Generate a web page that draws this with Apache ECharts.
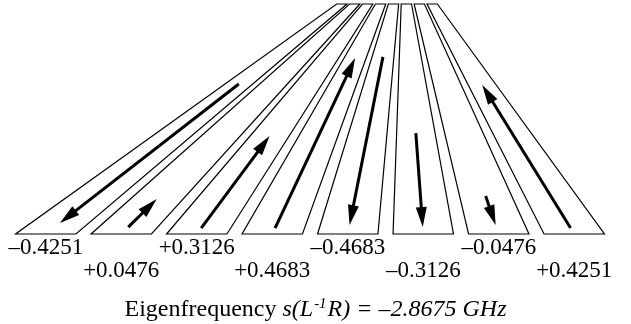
<!DOCTYPE html>
<html>
<head>
<meta charset="utf-8">
<script src="https://cdn.jsdelivr.net/npm/echarts@6/dist/echarts.min.js"></script>
<style>
html,body{margin:0;padding:0;background:#fff;}
#main{width:631px;height:324px;}
</style>
</head>
<body>
<div id="main"></div>
<script>
// strip index, left to right
var strips = [1, 2, 3, 4, 5, 6, 7, 8]
// eigenvector components printed under each strip
var values = [-0.4251, 0.0476, 0.3126, 0.4683, -0.4683, -0.3126, -0.0476, 0.4251]
// arrow tail / tip, as fraction of strip height (0 = bottom, 1 = top)
var arrowTail = [0.652, 0.030, 0.026, 0.026, 0.770, 0.439, 0.165, 0.026]
var arrowTip = [0.048, 0.152, 0.426, 0.765, 0.039, 0.030, 0.039, 0.648]
// 0 = first label row, 1 = second label row
var labelRow = [0, 1, 0, 1, 0, 1, 0, 1]
var eigenFreq = -2.8675

var FONT = "'Liberation Serif', 'Times New Roman', serif"
var HW = 0.4        // half width of a strip at the bottom (axis units)
var TOP_C = 5.52    // where the fan meets the top edge
var K = 0.171       // top width / bottom width
var MID = 4.5

function fmt(v){
	return (v < 0 ? '\u2013' : '+') + Math.abs(v).toFixed(4)
}

var chartData = strips.map(function(s, i){
	return [s, arrowTail[i], arrowTip[i], values[i], labelRow[i]]
})

function renderStrip(params, api){
	var s = api.value(0), t0 = api.value(1), t1 = api.value(2), v = api.value(3), row = api.value(4)
	var P = function(u, t){
		return api.coord([u * (1 - t) + (TOP_C + (u - MID) * K) * t, t])
	}
	var poly = [P(s - HW, 0), P(s + HW, 0), P(s + HW, 1), P(s - HW, 1)]
	var a = P(s, t0), b = P(s, t1)
	var dx = b[0] - a[0], dy = b[1] - a[1]
	var len = Math.sqrt(dx * dx + dy * dy)
	dx /= len; dy /= len
	var headL = 20, headW = 5.5
	var base = [b[0] - dx * headL, b[1] - dy * headL]
	var lineEnd = [b[0] - dx * (headL - 4), b[1] - dy * (headL - 4)]
	var bottom = P(s, 0)
	return {
		type: 'group',
		children: [{
			type: 'polygon',
			shape: {points: poly},
			style: {fill: 'none', stroke: '#000', lineWidth: 1.2}
		}, {
			type: 'line',
			shape: {x1: a[0], y1: a[1], x2: lineEnd[0], y2: lineEnd[1]},
			style: {stroke: '#000', lineWidth: 3}
		}, {
			type: 'polygon',
			shape: {points: [b, [base[0] - dy * headW, base[1] + dx * headW], [base[0] + dy * headW, base[1] - dx * headW]]},
			style: {fill: '#000'}
		}, {
			type: 'text',
			x: bottom[0],
			y: bottom[1] + (row ? 37 : 13.5),
			style: {
				text: fmt(v),
				fontFamily: FONT,
				fontSize: 23,
				fill: '#000',
				align: 'center',
				verticalAlign: 'middle'
			}
		}]
	}
}

var myChart = echarts.init(document.getElementById('main'))
var option = {
	animation: false,
	backgroundColor: '#fff',
	title: {
		text: 'Eigenfrequency {i|s(L}{sup|-1}{i|R) = ' + fmt(eigenFreq) + ' GHz}',
		left: 'center',
		top: 292,
		textStyle: {
			fontFamily: FONT,
			fontSize: 24,
			fontWeight: 'normal',
			color: '#000',
			rich: {
				i: {fontFamily: FONT, fontSize: 24, fontStyle: 'italic', color: '#000'},
				sup: {fontFamily: FONT, fontSize: 15, fontStyle: 'italic', color: '#000', verticalAlign: 'top', padding: [0, 1, 10, 1]}
			}
		}
	},
	grid: {left: 8, right: 19, top: 4, bottom: 90},
	xAxis: {type: 'value', min: 0.5, max: 8.5, show: false},
	yAxis: {type: 'value', min: 0, max: 1, show: false},
	series: [{
		type: 'custom',
		renderItem: renderStrip,
		data: chartData,
		clip: false
	}]
}
myChart.setOption(option)
</script>
</body>
</html>
